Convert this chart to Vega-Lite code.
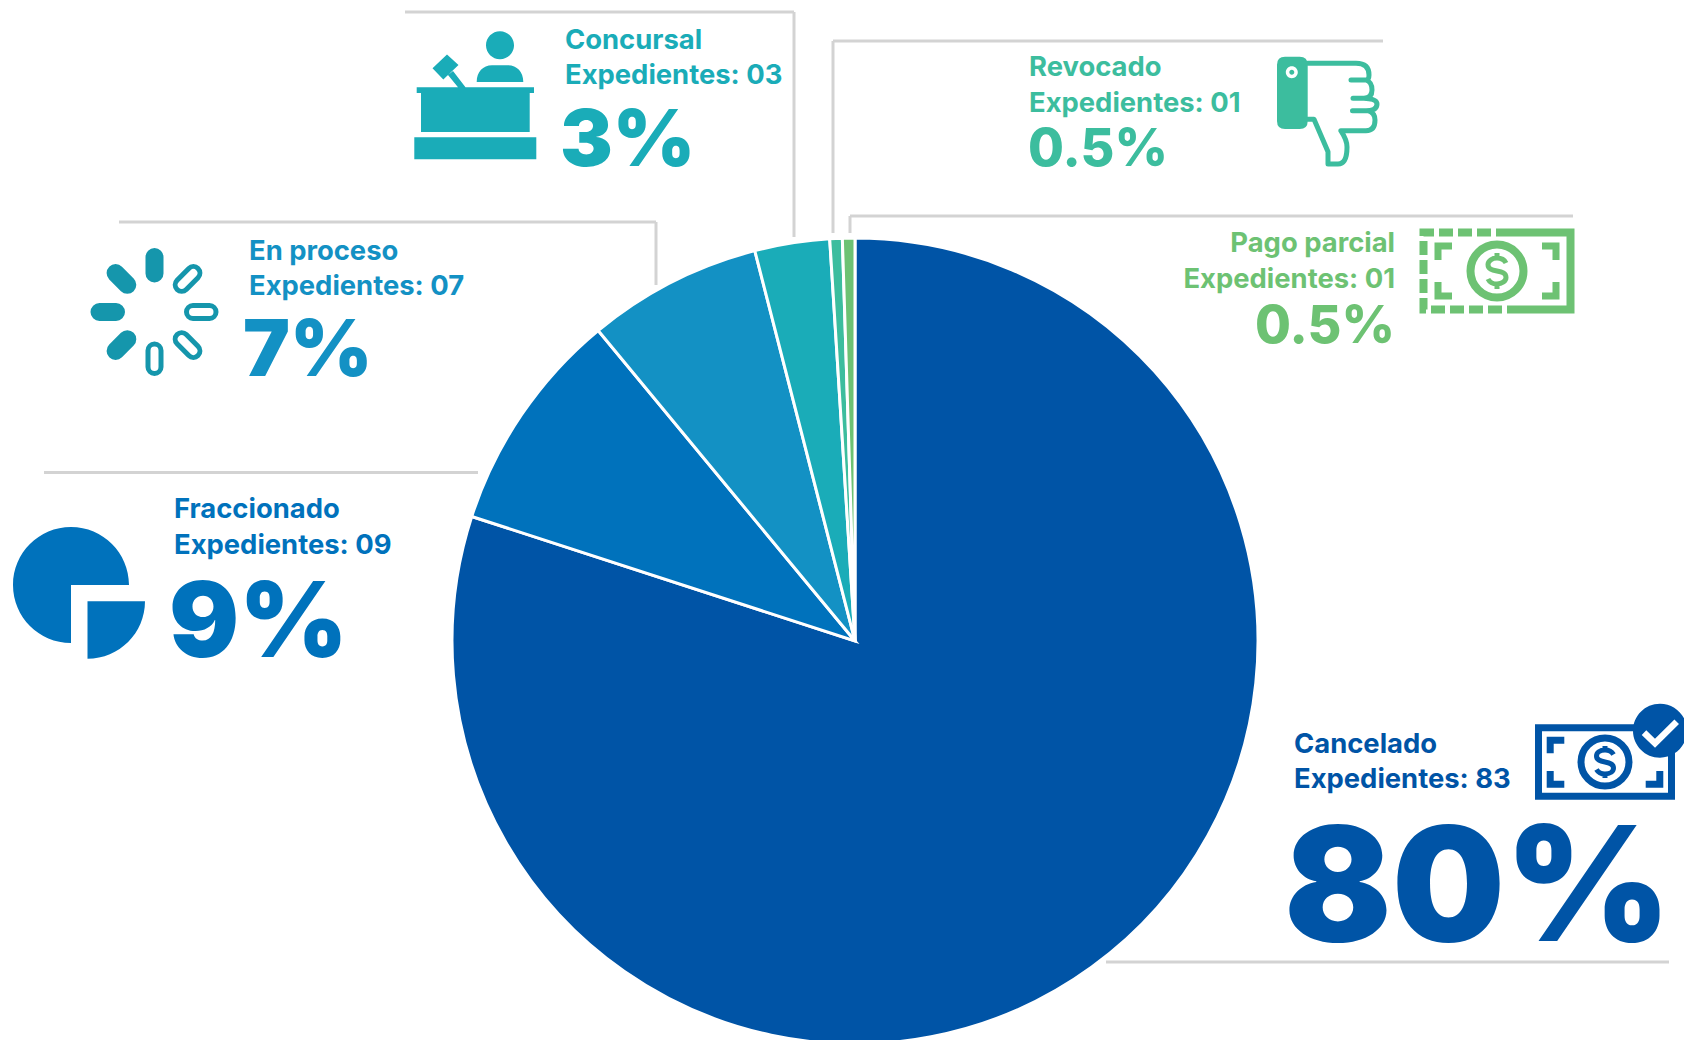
{"$schema":"https://vega.github.io/schema/vega-lite/v6.json","width":1684,"height":1040,"padding":0,"autosize":{"type":"none"},"background":"white","config":{"view":{"stroke":null},"axis":{"disable":true},"legend":{"disable":true},"text":{"font":"Inter","fontWeight":700,"align":"left","baseline":"alphabetic"},"rule":{"stroke":"#D3D3D3","strokeWidth":3}},"data":{"name":"exp"},"datasets":{"exp":[{"categoria":"Cancelado","expedientes":"Expedientes: 83","porcentaje":80,"etiqueta":"80%","orden":1},{"categoria":"Fraccionado","expedientes":"Expedientes: 09","porcentaje":9,"etiqueta":"9%","orden":2},{"categoria":"En proceso","expedientes":"Expedientes: 07","porcentaje":7,"etiqueta":"7%","orden":3},{"categoria":"Concursal","expedientes":"Expedientes: 03","porcentaje":3,"etiqueta":"3%","orden":4},{"categoria":"Revocado","expedientes":"Expedientes: 01","porcentaje":0.5,"etiqueta":"0.5%","orden":5},{"categoria":"Pago parcial","expedientes":"Expedientes: 01","porcentaje":0.5,"etiqueta":"0.5%","orden":6}]},"layer":[
{"transform":[{"filter":{"field":"categoria","equal":"Concursal"}}],"mark":"rule","encoding":{"x":{"datum":405,"type":"quantitative","scale":{"domain":[0,1684],"nice":false,"zero":false}},"x2":{"datum":794},"y":{"datum":12,"type":"quantitative","scale":{"domain":[0,1040],"reverse":true,"nice":false,"zero":false}},"y2":{"datum":12}}},
{"transform":[{"filter":{"field":"categoria","equal":"Concursal"}}],"mark":"rule","encoding":{"x":{"datum":794},"y":{"datum":12},"y2":{"datum":237}}},
{"transform":[{"filter":{"field":"categoria","equal":"Revocado"}}],"mark":"rule","encoding":{"x":{"datum":833},"x2":{"datum":1383},"y":{"datum":41},"y2":{"datum":41}}},
{"transform":[{"filter":{"field":"categoria","equal":"Revocado"}}],"mark":"rule","encoding":{"x":{"datum":833},"y":{"datum":41},"y2":{"datum":233}}},
{"transform":[{"filter":{"field":"categoria","equal":"Pago parcial"}}],"mark":"rule","encoding":{"x":{"datum":850},"x2":{"datum":1573},"y":{"datum":216},"y2":{"datum":216}}},
{"transform":[{"filter":{"field":"categoria","equal":"Pago parcial"}}],"mark":"rule","encoding":{"x":{"datum":850},"y":{"datum":216},"y2":{"datum":233}}},
{"transform":[{"filter":{"field":"categoria","equal":"En proceso"}}],"mark":"rule","encoding":{"x":{"datum":119},"x2":{"datum":656},"y":{"datum":222},"y2":{"datum":222}}},
{"transform":[{"filter":{"field":"categoria","equal":"En proceso"}}],"mark":"rule","encoding":{"x":{"datum":656},"y":{"datum":222},"y2":{"datum":285}}},
{"transform":[{"filter":{"field":"categoria","equal":"Fraccionado"}}],"mark":"rule","encoding":{"x":{"datum":44},"x2":{"datum":478},"y":{"datum":472.5},"y2":{"datum":472.5}}},
{"transform":[{"filter":{"field":"categoria","equal":"Cancelado"}}],"mark":"rule","encoding":{"x":{"datum":1106},"x2":{"datum":1669},"y":{"datum":962},"y2":{"datum":962}}},
{"mark":{"type":"arc","radius":403,"stroke":"white","strokeWidth":3},"encoding":{"x":{"datum":855},"y":{"datum":641},"theta":{"field":"porcentaje","type":"quantitative","stack":true},"order":{"field":"orden","type":"ordinal"},"color":{"field":"categoria","type":"nominal","scale":{"domain":["Cancelado","Fraccionado","En proceso","Concursal","Revocado","Pago parcial"],"range":["#0054A6","#0072BC","#1391C4","#1AACB8","#3CBD9E","#6DC273"]}}}},

{"transform":[{"filter":{"field":"categoria","equal":"Cancelado"}}],"mark":{"type":"text","fontSize":27.4},"encoding":{"x":{"datum":1294},"y":{"datum":753},"text":{"field":"categoria"},"color":{"field":"categoria"}}},
{"transform":[{"filter":{"field":"categoria","equal":"Cancelado"}}],"mark":{"type":"text","fontSize":27.4},"encoding":{"x":{"datum":1294},"y":{"datum":788},"text":{"field":"expedientes"},"color":{"field":"categoria"}}},
{"transform":[{"filter":{"field":"categoria","equal":"Cancelado"}}],"mark":{"type":"text","fontSize":159,"fontWeight":900},"encoding":{"x":{"datum":1284},"y":{"datum":941},"text":{"field":"etiqueta"},"color":{"field":"categoria"}}},
{"transform":[{"filter":{"field":"categoria","equal":"Fraccionado"}}],"mark":{"type":"text","fontSize":27.4},"encoding":{"x":{"datum":174},"y":{"datum":518},"text":{"field":"categoria"},"color":{"field":"categoria"}}},
{"transform":[{"filter":{"field":"categoria","equal":"Fraccionado"}}],"mark":{"type":"text","fontSize":27.4},"encoding":{"x":{"datum":174},"y":{"datum":554},"text":{"field":"expedientes"},"color":{"field":"categoria"}}},
{"transform":[{"filter":{"field":"categoria","equal":"Fraccionado"}}],"mark":{"type":"text","fontSize":104,"fontWeight":900},"encoding":{"x":{"datum":169},"y":{"datum":657},"text":{"field":"etiqueta"},"color":{"field":"categoria"}}},
{"transform":[{"filter":{"field":"categoria","equal":"En proceso"}}],"mark":{"type":"text","fontSize":27.4},"encoding":{"x":{"datum":249},"y":{"datum":260},"text":{"field":"categoria"},"color":{"field":"categoria"}}},
{"transform":[{"filter":{"field":"categoria","equal":"En proceso"}}],"mark":{"type":"text","fontSize":27.4},"encoding":{"x":{"datum":249},"y":{"datum":295},"text":{"field":"expedientes"},"color":{"field":"categoria"}}},
{"transform":[{"filter":{"field":"categoria","equal":"En proceso"}}],"mark":{"type":"text","fontSize":79,"fontWeight":900},"encoding":{"x":{"datum":243},"y":{"datum":376},"text":{"field":"etiqueta"},"color":{"field":"categoria"}}},
{"transform":[{"filter":{"field":"categoria","equal":"Concursal"}}],"mark":{"type":"text","fontSize":27.4},"encoding":{"x":{"datum":565},"y":{"datum":49},"text":{"field":"categoria"},"color":{"field":"categoria"}}},
{"transform":[{"filter":{"field":"categoria","equal":"Concursal"}}],"mark":{"type":"text","fontSize":27.4},"encoding":{"x":{"datum":565},"y":{"datum":84},"text":{"field":"expedientes"},"color":{"field":"categoria"}}},
{"transform":[{"filter":{"field":"categoria","equal":"Concursal"}}],"mark":{"type":"text","fontSize":79,"fontWeight":900},"encoding":{"x":{"datum":560},"y":{"datum":166},"text":{"field":"etiqueta"},"color":{"field":"categoria"}}},
{"transform":[{"filter":{"field":"categoria","equal":"Revocado"}}],"mark":{"type":"text","fontSize":27.4},"encoding":{"x":{"datum":1029},"y":{"datum":76},"text":{"field":"categoria"},"color":{"field":"categoria"}}},
{"transform":[{"filter":{"field":"categoria","equal":"Revocado"}}],"mark":{"type":"text","fontSize":27.4},"encoding":{"x":{"datum":1029},"y":{"datum":112},"text":{"field":"expedientes"},"color":{"field":"categoria"}}},
{"transform":[{"filter":{"field":"categoria","equal":"Revocado"}}],"mark":{"type":"text","fontSize":52,"fontWeight":800},"encoding":{"x":{"datum":1028},"y":{"datum":166},"text":{"field":"etiqueta"},"color":{"field":"categoria"}}},
{"transform":[{"filter":{"field":"categoria","equal":"Pago parcial"}}],"mark":{"type":"text","fontSize":27.4,"align":"right"},"encoding":{"x":{"datum":1395},"y":{"datum":252},"text":{"field":"categoria"},"color":{"field":"categoria"}}},
{"transform":[{"filter":{"field":"categoria","equal":"Pago parcial"}}],"mark":{"type":"text","fontSize":27.4,"align":"right"},"encoding":{"x":{"datum":1395},"y":{"datum":288},"text":{"field":"expedientes"},"color":{"field":"categoria"}}},
{"transform":[{"filter":{"field":"categoria","equal":"Pago parcial"}}],"mark":{"type":"text","fontSize":52,"fontWeight":800,"align":"right"},"encoding":{"x":{"datum":1395},"y":{"datum":343},"text":{"field":"etiqueta"},"color":{"field":"categoria"}}},

{"transform":[{"filter":{"field":"categoria","equal":"Concursal"}}],"mark":{"type":"point","size":4,"filled":true,"opacity":1,"strokeWidth":0,"shape":"M25,-68.7A14,14 0 1 1 24.99,-68.7Z M1.7,-18C1.7,-28 8,-34.7 17,-34.7L33,-34.7C42,-34.7 48.3,-28 48.3,-18Z M-58.3,-12.7L59,-12.7L59,-7L-58.3,-7Z M-54,-7L54.7,-7L54.7,32L-54,32Z M-60.7,37.3L61.3,37.3L61.3,59.3L-60.7,59.3Z M-42.5,-31.7L-28,-45.5L-16.5,-35L-31.7,-20.5Z M-27,-25L-22,-29L-9.5,-12.7L-17,-12.7Z"},"encoding":{"x":{"datum":475},"y":{"datum":100},"color":{"field":"categoria"}}},

{"transform":[{"filter":{"field":"categoria","equal":"En proceso"}}],"mark":{"type":"point","size":4,"filled":false,"opacity":1,"stroke":"#1596AC","strokeWidth":18,"strokeCap":"round","shape":"M0,-38.5L0,-55 M27.2,-27.2L38.9,-38.9 M38.5,0L55,0 M27.2,27.2L38.9,38.9 M0,38.5L0,55 M-27.2,27.2L-38.9,38.9 M-38.5,0L-55,0 M-27.2,-27.2L-38.9,-38.9"},"encoding":{"x":{"datum":154.5},"y":{"datum":312}}},
{"transform":[{"filter":{"field":"categoria","equal":"En proceso"}}],"mark":{"type":"point","size":4,"filled":false,"opacity":1,"stroke":"white","strokeWidth":8,"strokeCap":"round","shape":"M27.2,-27.2L38.9,-38.9 M38.5,0L55,0 M27.2,27.2L38.9,38.9 M0,38.5L0,55"},"encoding":{"x":{"datum":154.5},"y":{"datum":312}}},

{"transform":[{"filter":{"field":"categoria","equal":"Fraccionado"}}],"mark":{"type":"point","size":4,"filled":true,"opacity":1,"strokeWidth":0,"shape":"M0,0L58,0A58,58 0 1 0 0,58Z M16.5,16.3L74,16.3A57.5,57.5 0 0 1 16.5,73.8Z"},"encoding":{"x":{"datum":71},"y":{"datum":585},"color":{"field":"categoria"}}},

{"transform":[{"filter":{"field":"categoria","equal":"Revocado"}}],"mark":{"type":"point","size":4,"filled":true,"opacity":1,"strokeWidth":0,"shape":"M-45,-53.3L-30.3,-53.3Q-22.3,-53.3 -22.3,-45.3L-22.3,11Q-22.3,19 -30.3,19L-45,19Q-53,19 -53,11L-53,-45.3Q-53,-53.3 -45,-53.3Z"},"encoding":{"x":{"datum":1330},"y":{"datum":110},"color":{"field":"categoria"}}},
{"transform":[{"filter":{"field":"categoria","equal":"Revocado"}}],"mark":{"type":"point","size":4,"filled":true,"opacity":1,"strokeWidth":0,"fill":"white","shape":"M-38.2,-43.7A6,6 0 1 1 -38.21,-43.7Z"},"encoding":{"x":{"datum":1330},"y":{"datum":110}}},
{"transform":[{"filter":{"field":"categoria","equal":"Revocado"}}],"mark":{"type":"point","size":4,"filled":true,"opacity":1,"strokeWidth":0,"shape":"M-38.2,-40.2A2.5,2.5 0 1 1 -38.21,-40.2Z"},"encoding":{"x":{"datum":1330},"y":{"datum":110},"color":{"field":"categoria"}}},
{"transform":[{"filter":{"field":"categoria","equal":"Revocado"}}],"mark":{"type":"point","size":4,"filled":false,"opacity":1,"stroke":"#3CBD9E","strokeWidth":5,"strokeCap":"round","strokeJoin":"round","shape":"M-22.3,-46.7L26,-46.7Q39,-46.7 39,-35Q39,-30 36,-30L21,-30M36,-30Q42,-28 42,-20Q42,-12 34,-11.7L23,-11.7M34,-11.7Q47,-11 47,-6Q47,0.7 36,0.7L22.5,0.7M38,0.7Q45,3 45,10Q45,20.7 36,20.7L10.8,20.7Q17,30 17,37Q17,54 8,54L-2,54L-2,41.7L-16,9.3L-22.3,9.3"},"encoding":{"x":{"datum":1330},"y":{"datum":110}}},

{"transform":[{"filter":{"field":"categoria","equal":"Pago parcial"}}],"mark":{"type":"point","size":4,"filled":false,"opacity":1,"stroke":"#6DC273","strokeWidth":8,"strokeDash":[14,5],"shape":"M13,-38.5L-73.5,-38.5L-73.5,38.5L13,38.5"},"encoding":{"x":{"datum":1497},"y":{"datum":271}}},
{"transform":[{"filter":{"field":"categoria","equal":"Pago parcial"}}],"mark":{"type":"point","size":4,"filled":false,"opacity":1,"stroke":"#6DC273","strokeWidth":8,"shape":"M13,-38.5L73.5,-38.5L73.5,38.5L13,38.5"},"encoding":{"x":{"datum":1497},"y":{"datum":271}}},
{"transform":[{"filter":{"field":"categoria","equal":"Pago parcial"}}],"mark":{"type":"point","size":4,"filled":false,"opacity":1,"stroke":"#6DC273","strokeWidth":7,"shape":"M-45,-25L-59,-25L-59,-11M45,-25L59,-25L59,-11M-45,25L-59,25L-59,11M45,25L59,25L59,11"},"encoding":{"x":{"datum":1497},"y":{"datum":271}}},
{"transform":[{"filter":{"field":"categoria","equal":"Pago parcial"}}],"mark":{"type":"point","size":4,"filled":false,"opacity":1,"stroke":"#6DC273","strokeWidth":8,"shape":"M0,-26.5A26.5,26.5 0 1 1 -0.01,-26.5Z"},"encoding":{"x":{"datum":1497},"y":{"datum":271}}},
{"transform":[{"filter":{"field":"categoria","equal":"Pago parcial"}}],"mark":{"type":"point","size":4,"filled":false,"opacity":1,"stroke":"#6DC273","strokeWidth":5,"shape":"M9,-8C7,-12 3,-13 0,-13C-5,-13 -9,-10 -9,-6.5C-9,-2 -5,-1 0,0C5,1 9,2 9,6.5C9,10 5,13 0,13C-3,13 -7,12 -9,8M0,-13L0,-18M0,13L0,18"},"encoding":{"x":{"datum":1497},"y":{"datum":271}}},

{"transform":[{"filter":{"field":"categoria","equal":"Cancelado"}}],"mark":{"type":"point","size":4,"filled":false,"opacity":1,"stroke":"#0054A6","strokeWidth":7,"shape":"M-66.5,-34.2L66.5,-34.2L66.5,34.2L-66.5,34.2Z"},"encoding":{"x":{"datum":1605},"y":{"datum":762}}},
{"transform":[{"filter":{"field":"categoria","equal":"Cancelado"}}],"mark":{"type":"point","size":4,"filled":false,"opacity":1,"stroke":"#0054A6","strokeWidth":7,"shape":"M-40.7,-21.8L-54.8,-21.8L-54.8,-8.7M-40.7,22.2L-54.8,22.2L-54.8,9M40.7,22.2L54.8,22.2L54.8,9"},"encoding":{"x":{"datum":1605},"y":{"datum":762}}},
{"transform":[{"filter":{"field":"categoria","equal":"Cancelado"}}],"mark":{"type":"point","size":4,"filled":false,"opacity":1,"stroke":"#0054A6","strokeWidth":7,"shape":"M0,-24A24,24 0 1 1 -0.01,-24Z"},"encoding":{"x":{"datum":1605},"y":{"datum":762}}},
{"transform":[{"filter":{"field":"categoria","equal":"Cancelado"}}],"mark":{"type":"point","size":4,"filled":false,"opacity":1,"stroke":"#0054A6","strokeWidth":5,"shape":"M8.5,-7.5C6.5,-11 3,-12 0,-12C-5,-12 -8.5,-9.5 -8.5,-6C-8.5,-2 -5,-1 0,0C5,1 8.5,2 8.5,6C8.5,9.5 5,12 0,12C-3,12 -6.5,11 -8.5,7.5M0,-12L0,-16M0,12L0,16"},"encoding":{"x":{"datum":1605},"y":{"datum":762}}},
{"transform":[{"filter":{"field":"categoria","equal":"Cancelado"}}],"mark":{"type":"point","size":4,"filled":true,"opacity":1,"strokeWidth":0,"shape":"M55,-58.3A27,27 0 1 1 54.99,-58.3Z"},"encoding":{"x":{"datum":1605},"y":{"datum":762},"color":{"field":"categoria"}}},
{"transform":[{"filter":{"field":"categoria","equal":"Cancelado"}}],"mark":{"type":"point","size":4,"filled":false,"opacity":1,"stroke":"white","strokeWidth":6.5,"shape":"M39,-29.3L50,-18.7L71.7,-40.3"},"encoding":{"x":{"datum":1605},"y":{"datum":762}}}
]}
